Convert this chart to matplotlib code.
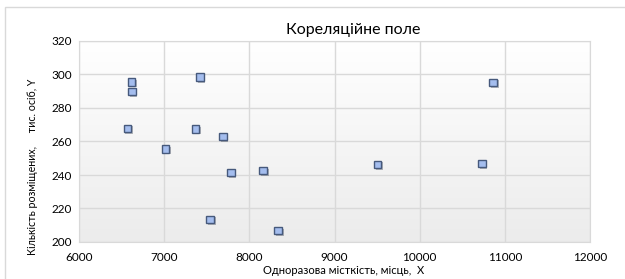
import numpy as np
import matplotlib.pyplot as plt
import matplotlib.patheffects as pe
from matplotlib.patches import Rectangle

plt.rcParams['font.family'] = ['Lato', 'DejaVu Sans']

# Одноразова місткість (X) і кількість розміщених (Y)
x_vals = [6619, 6620, 6567, 7420, 7370, 7690, 7017, 7784, 8163, 7541, 8339, 9506, 10730, 10863]
y_vals = [295.6, 289.8, 267.8, 298.4, 267.6, 263.0, 255.6, 241.6, 242.6, 213.4, 206.8, 246.4, 246.8, 295.2]

x_ticks = [6000, 7000, 8000, 9000, 10000, 11000, 12000]
y_ticks = [200, 220, 240, 260, 280, 300, 320]

W, H = 625, 279
fig = plt.figure(figsize=(W / 100, H / 100), dpi=100)
ax = fig.add_axes([79 / W, 1 - 242 / H, (590 - 79) / W, (242 - 41) / H])

# легкий градієнт фону: білий зверху, світло-сірий знизу
t = np.linspace(0, 1, 100).reshape(-1, 1, 1)
top = np.array([1.0, 1.0, 1.0])
bottom = np.array([0.925, 0.925, 0.925])
grad = bottom + (top - bottom) * t
ax.imshow(grad, extent=[6000, 12000, 200, 320], aspect='auto', origin='lower', zorder=0)

ax.set_xlim(6000, 12000)
ax.set_ylim(200, 320)
ax.set_xticks(x_ticks)
ax.set_yticks(y_ticks)
ax.grid(True, color='#d9d9d9', lw=1)
ax.set_axisbelow(True)
for s in ax.spines.values():
    s.set_color('#d9d9d9')
ax.tick_params(length=0, labelsize=8.5, colors='#000000', pad=5)
ax.tick_params(axis='x', pad=7)

ax.plot(x_vals, y_vals, ls='none', marker='s', ms=5.4, mfc='#a4bdee', mec='#46597c', mew=1,
        zorder=3, path_effects=[pe.SimplePatchShadow(offset=(1.2, -1.2), alpha=0.35), pe.Normal()])

fig.text(353 / W, 1 - 30 / H, 'Кореляційне поле', ha='center', va='center', fontsize=11.5)
fig.text(344 / W, 1 - 270 / H, 'Одноразова місткість, місць,  X', ha='center', va='center', fontsize=8)
fig.text(33 / W, 1 - 167 / H, 'Кількість розміщених,     тис. осіб, Y', ha='center', va='center',
         fontsize=7.7, rotation=90)

fig.patches.append(Rectangle((5 / W, -0.1), 1, 1 - 7 / H + 0.1, transform=fig.transFigure,
                             fill=False, ec='#d9d9d9', lw=1))

fig.savefig('out.png', dpi=100)
